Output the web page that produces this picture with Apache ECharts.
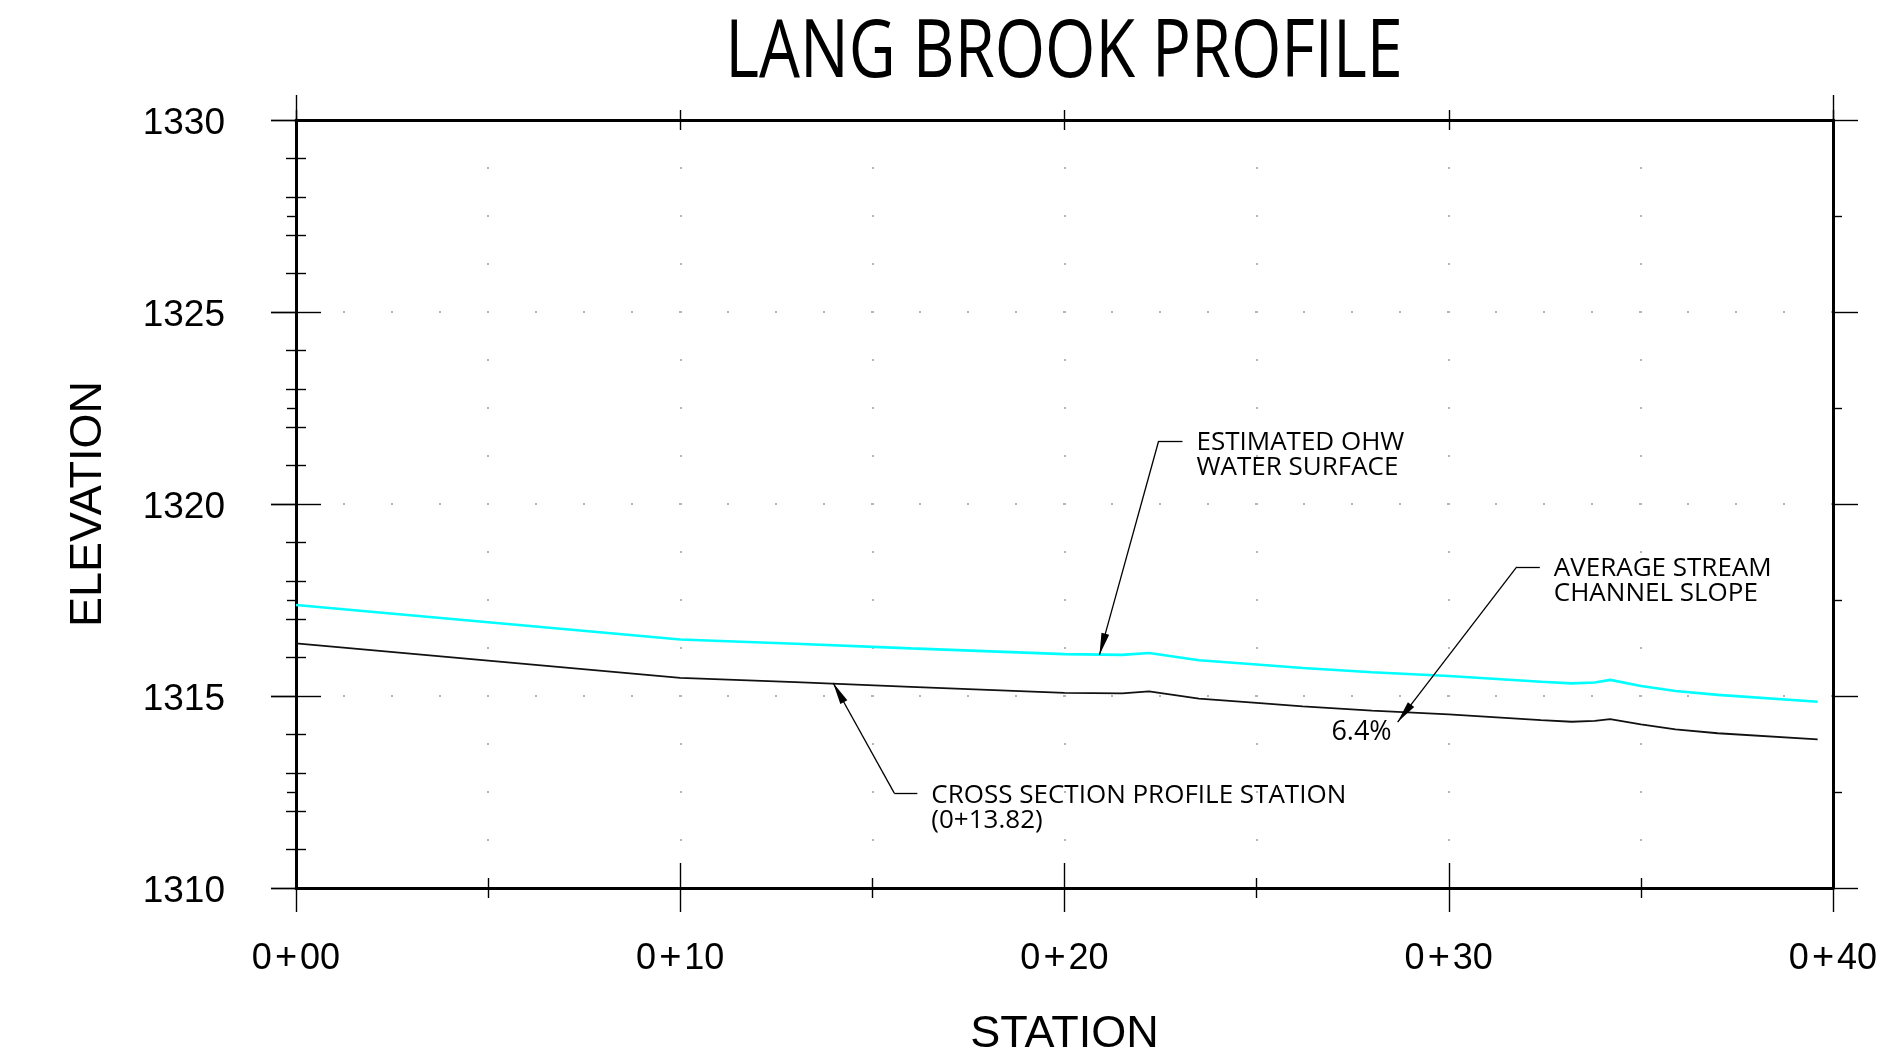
<!DOCTYPE html>
<html>
<head>
<meta charset="utf-8">
<script src="https://cdn.jsdelivr.net/npm/echarts@6/dist/echarts.min.js"></script>
<style>
html,body{margin:0;padding:0;background:#fff;}
#chart{width:1901px;height:1061px;}
</style>
</head>
<body>
<div id="chart"></div>
<script>
// ---- data ----
const stations = [0, 5, 10, 13, 16, 20, 21.5, 22.2, 23.5, 25, 26.2, 28, 30, 32.4, 33.2, 33.8, 34.2, 35, 35.9, 37, 39.6];
const waterSurface = [1317.37, 1316.92, 1316.47, 1316.36, 1316.24, 1316.09, 1316.07, 1316.12, 1315.93, 1315.82, 1315.73, 1315.62, 1315.52, 1315.37, 1315.33, 1315.35, 1315.42, 1315.26, 1315.13, 1315.03, 1314.85];
const groundProfile = [1316.37, 1315.92, 1315.47, 1315.36, 1315.24, 1315.08, 1315.07, 1315.12, 1314.93, 1314.82, 1314.73, 1314.62, 1314.52, 1314.37, 1314.33, 1314.35, 1314.40, 1314.26, 1314.13, 1314.03, 1313.87];
const stationTicks = [0, 10, 20, 30, 40];
const stationLabels = ['0+00', '0+10', '0+20', '0+30', '0+40'];
const elevationTicks = [1310, 1315, 1320, 1325, 1330];
const elevationLabels = ['1310', '1315', '1320', '1325', '1330'];
// annotations: [arrow start, arrow tip, leader end] in (station, elevation)
const annoTexts = ['ESTIMATED OHW\nWATER SURFACE', 'AVERAGE STREAM\nCHANNEL SLOPE', 'CROSS SECTION PROFILE STATION\n(0+13.82)'];
const annoStart = [[22.45, 1321.64], [31.77, 1318.36], [15.57, 1312.47]];
const annoTip = [[20.91, 1316.07], [28.67, 1314.32], [13.98, 1315.34]];
const annoEnd = [[23.07, 1321.64], [32.37, 1318.36], [16.17, 1312.47]];
const slopeText = '6.4%';
const slopePos = [27.73, 1314.06];

const chart = echarts.init(document.getElementById('chart'));
const BLACK = '#000';
const thin = {color: BLACK, width: 1.4};
const dotLine = {color: '#b5b5b5', width: 2, type: [2, 46], dashOffset: 1};
const hidden = {show: false};

function xFmt(v) { const i = stationTicks.indexOf(v); return i >= 0 ? '{a|' + stationLabels[i].replace('+', '}{p|+}{a|') + '}' : ''; }
function yFmt(v) { const i = elevationTicks.indexOf(v); return i >= 0 ? '{v|' + elevationLabels[i] + '}' : ''; }

const xBase = {type: 'value', min: 0, max: 40, splitLine: hidden, axisLabel: hidden, axisLine: {show: false}};
const yBase = {type: 'value', min: 1310, max: 1330, splitLine: hidden, axisLabel: hidden, axisLine: {show: false}};

const lines = [];
const points = [];
for (let i = 0; i < annoTexts.length; i++) {
  lines.push([{coord: annoStart[i], symbol: 'none'}, {coord: annoTip[i], symbol: 'triangle', symbolSize: [8, 22], symbolOffset: [0, 11]}]);
  lines.push([{coord: annoStart[i], symbol: 'none'}, {coord: annoEnd[i], symbol: 'none'}]);
  points.push({coord: annoEnd[i], value: annoTexts[i], label: {position: 'right', distance: 14, offset: [0, 14.5]}});
}
points.push({coord: slopePos, value: slopeText, label: {position: 'inside', align: 'center', fontSize: 27}});

chart.setOption({
  animation: false,
  backgroundColor: '#fff',
  grid: {left: 296, top: 120, width: 1537, height: 768, containLabel: false, outerBoundsMode: 'none'},
  xAxis: [
    Object.assign({}, xBase, {position: 'bottom', interval: 10,
      axisLine: {show: true, onZero: false, lineStyle: {color: BLACK, width: 3}},
      axisTick: {show: true, length: 24, lineStyle: thin},
      minorTick: {show: true, splitNumber: 2, length: 10, lineStyle: thin},
      splitLine: {show: true, lineStyle: dotLine},
      minorSplitLine: {show: true, lineStyle: dotLine},
      axisLabel: {show: true, margin: 52, formatter: xFmt, color: BLACK,
        rich: {a: {fontFamily: 'Liberation Sans', fontSize: 36, color: BLACK}, p: {fontFamily: 'Liberation Sans', fontSize: 38, color: BLACK, padding: [0, 3]}}},
      name: 'STATION', nameLocation: 'middle', nameGap: 124,
      nameTextStyle: {fontFamily: 'Liberation Sans', fontSize: 45, color: BLACK}}),
    Object.assign({}, xBase, {position: 'bottom', interval: 10,
      axisTick: {show: true, inside: true, length: 25, lineStyle: thin},
      minorTick: {show: true, splitNumber: 2, length: 10, lineStyle: thin}}),
    Object.assign({}, xBase, {position: 'top', interval: 10,
      axisLine: {show: true, onZero: false, lineStyle: {color: BLACK, width: 3}},
      axisTick: {show: true, length: 10, lineStyle: thin}}),
    Object.assign({}, xBase, {position: 'top', interval: 10,
      axisTick: {show: true, inside: true, length: 10, lineStyle: thin}}),
    Object.assign({}, xBase, {position: 'top', interval: 40,
      axisTick: {show: true, length: 25, lineStyle: thin}})
  ],
  yAxis: [
    Object.assign({}, yBase, {position: 'left', interval: 5,
      axisLine: {show: true, onZero: false, lineStyle: {color: BLACK, width: 3}},
      axisTick: {show: true, length: 25, lineStyle: thin},
      minorTick: {show: true, splitNumber: 5, length: 10, lineStyle: thin},
      splitLine: {show: true, lineStyle: dotLine},
      axisLabel: {show: true, margin: 71, formatter: yFmt, color: BLACK,
        rich: {v: {fontFamily: 'Liberation Sans', fontSize: 37, color: BLACK, padding: [8, 0, 0, 0]}}},
      name: 'ELEVATION', nameLocation: 'middle', nameGap: 185, nameRotate: 90,
      nameTextStyle: {fontFamily: 'Liberation Sans', fontSize: 45, color: BLACK}}),
    Object.assign({}, yBase, {position: 'left', interval: 5,
      axisTick: {show: true, inside: true, length: 25, lineStyle: thin},
      minorTick: {show: true, splitNumber: 5, length: 10, lineStyle: thin}}),
    Object.assign({}, yBase, {position: 'right', interval: 5,
      axisLine: {show: true, onZero: false, lineStyle: {color: BLACK, width: 3}},
      axisTick: {show: true, length: 25, lineStyle: thin},
      minorTick: {show: true, splitNumber: 2, length: 9, lineStyle: thin}}),
    Object.assign({}, yBase, {position: 'right', interval: 5,
      axisTick: {show: true, inside: true, length: 25, lineStyle: thin},
      minorTick: {show: true, splitNumber: 2, length: 9, lineStyle: thin}})
  ],
  graphic: [{
    type: 'text', x: 1064, y: 54, scaleX: 0.81,
    style: {text: 'LANG BROOK PROFILE', font: '80px "Open Sans"', fill: BLACK, textAlign: 'center', textVerticalAlign: 'middle'}
  }],
  series: [
    {
      name: 'Estimated OHW water surface', type: 'line', xAxisIndex: 0, yAxisIndex: 0,
      data: stations.map((s, i) => [s, waterSurface[i]]),
      symbol: 'none', lineStyle: {color: '#00FFFF', width: 2.6}, itemStyle: {color: '#00FFFF'}, z: 3
    },
    {
      name: 'Cross section profile', type: 'line', xAxisIndex: 0, yAxisIndex: 0,
      data: stations.map((s, i) => [s, groundProfile[i]]),
      symbol: 'none', lineStyle: {color: '#111', width: 1.8}, itemStyle: {color: '#111'}, z: 3,
      markLine: {
        silent: true, animation: false, symbol: ['none', 'triangle'],
        lineStyle: {color: BLACK, width: 1.3, type: 'solid'},
        itemStyle: {color: BLACK},
        label: {show: false}, emphasis: {disabled: true},
        data: lines
      },
      markPoint: {
        silent: true, animation: false, symbol: 'circle', symbolSize: 0,
        itemStyle: {color: 'rgba(0,0,0,0)'},
        label: {show: true, formatter: p => p.value, fontFamily: 'Open Sans', fontSize: 26, lineHeight: 25, color: BLACK, align: 'left'},
        data: points
      }
    }
  ]
});
</script>
</body>
</html>
